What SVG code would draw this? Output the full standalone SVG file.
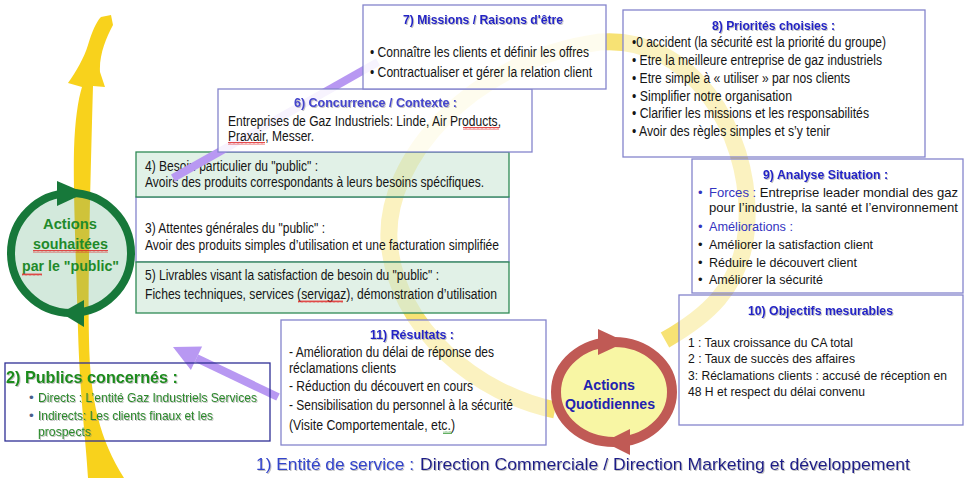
<svg xmlns="http://www.w3.org/2000/svg" width="968" height="478" viewBox="0 0 968 478">
<defs>
<style>
text { font-family: 'Liberation Sans', Arial, Helvetica, sans-serif; }
.b { font-size: 14px; fill: #151515; }
.r9 { font-size: 13px; }
.r10 { font-size: 12.5px; }
.h { font-size: 13.5px; font-weight: bold; fill: #2424c6; }
.bx { fill: #ffffff; fill-opacity: 0.55; stroke: #8484cc; stroke-width: 1.3; }
.op { fill-opacity: 0.88; }
.gb { fill: #d6ebde; fill-opacity: 0.72; stroke: #2e8a55; stroke-width: 1.3; }
.lav { stroke: #b898f2; stroke-width: 8; fill: none; }
.gr { fill: #2a8a2a; font-size: 13.5px; }
.ct { font-size: 15px; font-weight: bold; fill: #1f8a2a; }
.qt { font-size: 14.5px; font-weight: bold; fill: #2222b0; }
</style>
<filter id="sh" x="-5%" y="-30%" width="110%" height="160%"><feDropShadow dx="1" dy="1" stdDeviation="0.6" flood-color="#777" flood-opacity="0.45"/></filter>
<pattern id="wv" width="4" height="3" patternUnits="userSpaceOnUse"><polyline points="0,2.5 1,0.5 2,2.5 3,0.5 4,2.5" fill="none" stroke="#e02020" stroke-width="0.8"/></pattern>
<pattern id="wvg" width="4" height="3" patternUnits="userSpaceOnUse"><polyline points="0,2.5 1,0.5 2,2.5 3,0.5 4,2.5" fill="none" stroke="#3a9a3a" stroke-width="0.8"/></pattern>
<path id="yArrow" d="M 88 478 C 86 440 80 400 78 330 C 76 260 73 190 74 150 C 75 120 78 100 82 87 L 68 83 C 76 72 84 58 88 45 C 92 32 96 22 101 17 L 111 15 L 113 25 C 106 38 99 55 100 72 L 105 87 L 93 86 C 92 120 91 160 90 200 C 89 260 88 300 89 340 C 90 400 100 440 124 478 Z"/>
<clipPath id="gclip"><circle cx="71" cy="253" r="60"/></clipPath>
</defs>
<rect x="0" y="0" width="968" height="478" fill="#ffffff"/>

<g id="cycle">
<path d="M 555 410 C 480 395 395 330 389 240 C 385 160 470 60 600 42 C 690 35 750 130 747 220 C 745 290 700 320 665 340" fill="none" stroke="#f3d22a" stroke-opacity="0.65" stroke-width="17"/>
</g>

<g id="publicArrow">
<use href="#yArrow" fill="#f8d21c"/>
</g>

<g id="box3">
<rect class="bx" x="136" y="197" width="373" height="65"/>
<text class="b" x="145" y="233" textLength="180" lengthAdjust="spacingAndGlyphs">3) Attentes générales du "public" :</text>
<text class="b" x="145" y="250" textLength="354" lengthAdjust="spacingAndGlyphs">Avoir des produits simples d’utilisation et une facturation simplifiée</text>
</g>

<g id="box4">
<rect class="gb" x="136" y="152" width="373" height="45"/>
<text class="b" x="145" y="171" textLength="173" lengthAdjust="spacingAndGlyphs">4) Besoin particulier du "public" :</text>
<text class="b" x="145" y="187" textLength="339" lengthAdjust="spacingAndGlyphs">Avoirs des produits correspondants à leurs besoins spécifiques.</text>
</g>

<g id="box5">
<rect class="gb" x="136" y="262" width="373" height="51"/>
<text class="b" x="145" y="280" textLength="294" lengthAdjust="spacingAndGlyphs">5) Livrables visant la satisfaction de besoin du "public" :</text>
<text class="b" x="145" y="299" textLength="352" lengthAdjust="spacingAndGlyphs">Fiches techniques, services (servigaz), démonstration d’utilisation</text>
<rect x="298" y="300" width="45" height="3" fill="url(#wv)"/>
</g>

<g id="connectors">
<path class="lav" d="M 173 178 L 378 62"/>
<path class="lav" d="M 278 397 L 196.5 358.2"/>
<polygon points="173,347 202.1,346.5 190.9,369.9" fill="#b898f2"/>
</g>

<g id="box6">
<rect class="bx op" x="218" y="89" width="314" height="63"/>
<text class="h" x="294" y="107" textLength="163" lengthAdjust="spacingAndGlyphs" style="fill:#4444cc" filter="url(#sh)">6) Concurrence / Contexte :</text>
<text class="b" x="228" y="126" textLength="273" lengthAdjust="spacingAndGlyphs">Entreprises de Gaz Industriels: Linde, Air Products,</text>
<text class="b" x="228" y="141" textLength="86" lengthAdjust="spacingAndGlyphs">Praxair, Messer.</text>
<rect x="463" y="127" width="36" height="3" fill="url(#wv)"/>
<rect x="228" y="142" width="37" height="3" fill="url(#wv)"/>
</g>

<g id="box7">
<rect class="bx op" x="363" y="5" width="243" height="84"/>
<text class="h" x="403" y="24" textLength="160" lengthAdjust="spacingAndGlyphs" filter="url(#sh)">7) Missions / Raisons d'être</text>
<text class="b" x="370" y="57" textLength="219" lengthAdjust="spacingAndGlyphs">• Connaître les clients et définir les offres</text>
<text class="b" x="370" y="77" textLength="222" lengthAdjust="spacingAndGlyphs">• Contractualiser et gérer la relation client</text>
</g>

<g id="box8">
<rect class="bx" x="623" y="10" width="302" height="147"/>
<text class="h" x="712" y="30" textLength="123" lengthAdjust="spacingAndGlyphs" filter="url(#sh)">8) Priorités choisies :</text>
<text class="b" x="632" y="47" textLength="254" lengthAdjust="spacingAndGlyphs">•0 accident (la sécurité est la priorité du groupe)</text>
<text class="b" x="632" y="65" textLength="250" lengthAdjust="spacingAndGlyphs">• Etre la meilleure entreprise de gaz industriels</text>
<text class="b" x="632" y="83" textLength="218" lengthAdjust="spacingAndGlyphs">• Etre simple à « utiliser » par nos clients</text>
<text class="b" x="632" y="101" textLength="160" lengthAdjust="spacingAndGlyphs">• Simplifier notre organisation</text>
<text class="b" x="632" y="118" textLength="237" lengthAdjust="spacingAndGlyphs">• Clarifier les missions et les responsabilités</text>
<text class="b" x="632" y="136" textLength="198" lengthAdjust="spacingAndGlyphs">• Avoir des règles simples et s’y tenir</text>
</g>

<g id="box9">
<rect class="bx" x="692" y="159" width="271" height="134"/>
<text class="h" x="763" y="179" textLength="125" lengthAdjust="spacingAndGlyphs" filter="url(#sh)">9) Analyse Situation :</text>
<text class="b r9" x="698" y="197" style="fill:#3434c0">•</text>
<text class="b r9" x="709" y="197" textLength="249" lengthAdjust="spacingAndGlyphs"><tspan style="fill:#3434c0">Forces : </tspan>Entreprise leader mondial des gaz</text>
<text class="b r9" x="709" y="212" textLength="249" lengthAdjust="spacingAndGlyphs">pour l’industrie, la santé et l’environnement</text>
<text class="b r9" x="698" y="231" style="fill:#3434c0">•</text>
<text class="b r9" x="709" y="231" textLength="84" lengthAdjust="spacingAndGlyphs" style="fill:#3434c0">Améliorations :</text>
<text class="b r9" x="698" y="249">•</text>
<text class="b r9" x="709" y="249" textLength="164" lengthAdjust="spacingAndGlyphs">Améliorer la satisfaction client</text>
<text class="b r9" x="698" y="267">•</text>
<text class="b r9" x="709" y="267" textLength="148" lengthAdjust="spacingAndGlyphs">Réduire le découvert client</text>
<text class="b r9" x="698" y="284">•</text>
<text class="b r9" x="709" y="284" textLength="114" lengthAdjust="spacingAndGlyphs">Améliorer la sécurité</text>
</g>

<g id="box10">
<rect class="bx" x="679" y="295" width="284" height="130"/>
<text class="h" x="748" y="315" textLength="145" lengthAdjust="spacingAndGlyphs" filter="url(#sh)">10) Objectifs mesurables</text>
<text class="b r10" x="688" y="347" textLength="165" lengthAdjust="spacingAndGlyphs">1 : Taux croissance du CA total</text>
<text class="b r10" x="688" y="363" textLength="167" lengthAdjust="spacingAndGlyphs">2 : Taux de succès des affaires</text>
<text class="b r10" x="688" y="380" textLength="259" lengthAdjust="spacingAndGlyphs">3: Réclamations clients : accusé de réception en</text>
<text class="b r10" x="688" y="396" textLength="177" lengthAdjust="spacingAndGlyphs">48 H et respect du délai convenu</text>
</g>

<g id="box11">
<rect class="bx" x="281" y="320" width="265" height="125"/>
<text class="h" x="370" y="339" textLength="84" lengthAdjust="spacingAndGlyphs" filter="url(#sh)">11) Résultats :</text>
<text class="b" x="289" y="357" textLength="205" lengthAdjust="spacingAndGlyphs">- Amélioration du délai de réponse des</text>
<text class="b" x="289" y="373" textLength="107" lengthAdjust="spacingAndGlyphs">réclamations clients</text>
<text class="b" x="289" y="391" textLength="184" lengthAdjust="spacingAndGlyphs">- Réduction du découvert en cours</text>
<text class="b" x="289" y="410" textLength="224" lengthAdjust="spacingAndGlyphs">- Sensibilisation du personnel à la sécurité</text>
<text class="b" x="289" y="430" textLength="166" lengthAdjust="spacingAndGlyphs">(Visite Comportementale, etc.)</text>
<rect x="443" y="431" width="9" height="3" fill="url(#wvg)"/>
</g>

<g id="box2">
<rect x="5" y="363" width="265" height="78" fill="none" stroke="#2f2f95" stroke-width="1.3"/>
<text x="6" y="383" font-size="17" font-weight="bold" fill="#1a8c1a" textLength="172" lengthAdjust="spacingAndGlyphs" filter="url(#sh)">2) Publics concernés :</text>
<text x="29" y="402" font-size="13.5" fill="#4a5f8a">•</text>
<text class="gr" x="38" y="402" textLength="219" lengthAdjust="spacingAndGlyphs" filter="url(#sh)">Directs : L’entité Gaz Industriels Services</text>
<text x="29" y="420" font-size="13.5" fill="#4a5f8a">•</text>
<text class="gr" x="38" y="420" textLength="175" lengthAdjust="spacingAndGlyphs" filter="url(#sh)">Indirects: Les clients finaux et les</text>
<text class="gr" x="38" y="436" textLength="53" lengthAdjust="spacingAndGlyphs" filter="url(#sh)">prospects</text>
</g>

<g id="actionsPublic">
<circle cx="71" cy="253" r="60" fill="#d3e9dc"/>
<use href="#yArrow" fill="#cfc33a" clip-path="url(#gclip)"/>
<circle cx="71" cy="253" r="60" fill="none" stroke="#17783a" stroke-width="8"/>
<polygon points="57,181 57,206 85,193" fill="#17783a"/>
<polygon points="84,300 84,327 61,313" fill="#17783a"/>
<text class="ct" x="43" y="229" textLength="54" lengthAdjust="spacingAndGlyphs">Actions</text>
<text class="ct" x="33" y="249" textLength="75" lengthAdjust="spacingAndGlyphs">souhaitées</text>
<text class="ct" x="22" y="271" textLength="97" lengthAdjust="spacingAndGlyphs">par le "public"</text>
<rect x="33" y="250" width="75" height="3" fill="url(#wv)"/>
<rect x="22" y="273" width="20" height="3" fill="url(#wv)"/>
</g>

<g id="actionsQuotidiennes">
<ellipse cx="614" cy="392" rx="58" ry="50" fill="#f8f6a4" stroke="#c05a55" stroke-width="10"/>
<polygon points="598,329 598,355 626,342" fill="#c05a55"/>
<polygon points="630,429 630,455 604,442" fill="#c05a55"/>
<text class="qt" x="583" y="390" textLength="52" lengthAdjust="spacingAndGlyphs">Actions</text>
<text class="qt" x="565" y="409" textLength="90" lengthAdjust="spacingAndGlyphs">Quotidiennes</text>
</g>

<g id="entite">
<text x="256" y="470" font-size="17" fill="#3344cc" textLength="158" lengthAdjust="spacingAndGlyphs" filter="url(#sh)">1) Entité de service :</text>
<text x="420" y="470" font-size="17" fill="#1e1e88" textLength="490" lengthAdjust="spacingAndGlyphs" filter="url(#sh)">Direction Commerciale / Direction Marketing et développement</text>
</g>
</svg>
